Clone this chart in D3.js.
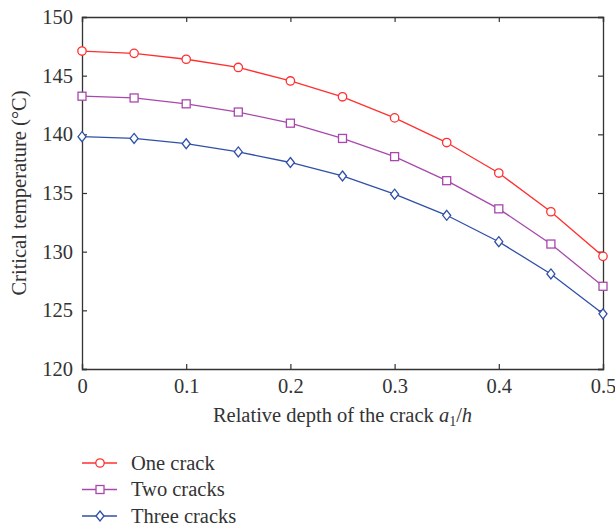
<!DOCTYPE html>
<html>
<head>
<meta charset="utf-8">
<script src="https://cdn.jsdelivr.net/npm/d3@7"></script>
<style>
  body { margin: 0; background: #fff; overflow: hidden; }
  svg { display: block; }
</style>
</head>
<body>
<svg class="chart" width="615" height="528" font-family="Liberation Serif, DejaVu Serif, serif"></svg>
<script>
// data
const depths = [0, 0.05, 0.1, 0.15, 0.2, 0.25, 0.3, 0.35, 0.4, 0.45, 0.5];
const oneCrack = [147.1, 146.9, 146.4, 145.7, 144.55, 143.2, 141.4, 139.3, 136.7, 133.4, 129.6];
const twoCracks = [143.25, 143.1, 142.6, 141.9, 140.95, 139.65, 138.1, 136.05, 133.65, 130.65, 127.05];
const threeCracks = [139.8, 139.65, 139.2, 138.5, 137.6, 136.45, 134.9, 133.1, 130.85, 128.1, 124.7];
const xTicks = [0, 0.1, 0.2, 0.3, 0.4, 0.5];
const yTicks = [120, 125, 130, 135, 140, 145, 150];
const seriesNames = ['One crack', 'Two cracks', 'Three cracks'];

const series = [
    {name: seriesNames[0], values: oneCrack, color: '#ff3030', marker: 'circle'},
    {name: seriesNames[1], values: twoCracks, color: '#a848ac', marker: 'square'},
    {name: seriesNames[2], values: threeCracks, color: '#3050a8', marker: 'diamond'}
];

const svg = d3.select('.chart');
const margin = {top: 17, right: 12, bottom: 159, left: 82};
const width = +svg.attr('width');
const height = +svg.attr('height');
const innerWidth = width - margin.left - margin.right;
const innerHeight = height - margin.top - margin.bottom;
const fontSize = 20.5;
const textColor = '#333';

const xScale = d3.scaleLinear().domain([0, 0.5]).range([0, innerWidth]);
const yScale = d3.scaleLinear().domain([120, 150]).range([innerHeight, 0]);

const g = svg.append('g')
    .attr('transform', `translate(${margin.left}, ${margin.top})`);

// axes, ticks point inward, mirrored on top and right
const axisColor = '#333';
const tickLen = 5;

const xAxisG = g.append('g')
    .attr('transform', `translate(0, ${innerHeight})`)
    .call(d3.axisBottom(xScale).tickValues(xTicks).tickSize(-tickLen).tickPadding(9)
        .tickFormat(d => d === 0 ? '0' : d3.format('.1f')(d)));
const yAxisG = g.append('g')
    .call(d3.axisLeft(yScale).tickValues(yTicks).tickSize(-tickLen).tickPadding(9));
const topAxisG = g.append('g')
    .call(d3.axisTop(xScale).tickValues(xTicks).tickSize(-tickLen));
const rightAxisG = g.append('g')
    .attr('transform', `translate(${innerWidth}, 0)`)
    .call(d3.axisRight(yScale).tickValues(yTicks).tickSize(-tickLen));

// mirrored axes carry no labels
topAxisG.selectAll('.tick text').remove();
rightAxisG.selectAll('.tick text').remove();

[xAxisG, yAxisG, topAxisG, rightAxisG].forEach(a => {
    a.attr('font-size', fontSize).attr('font-family', null);
    a.select('.domain').attr('stroke', axisColor).attr('stroke-width', 1.3);
    a.selectAll('.tick line').attr('stroke', axisColor).attr('stroke-width', 1.2);
    a.selectAll('.tick text').attr('fill', textColor);
});

// axis titles
const xTitle = g.append('text')
    .attr('x', innerWidth / 2)
    .attr('y', innerHeight + 53)
    .attr('text-anchor', 'middle')
    .attr('font-size', fontSize)
    .attr('fill', textColor);
xTitle.append('tspan').text('Relative depth of the crack ');
xTitle.append('tspan').attr('font-style', 'italic').text('a');
xTitle.append('tspan').attr('font-size', 14).attr('dy', 4).text('1');
xTitle.append('tspan').attr('dy', -4).text('/');
xTitle.append('tspan').attr('font-style', 'italic').text('h');

g.append('text')
    .attr('transform', `translate(${-56}, ${innerHeight / 2}) rotate(-90)`)
    .attr('text-anchor', 'middle')
    .attr('font-size', fontSize)
    .attr('fill', textColor)
    .text('Critical temperature (\u00B0C)');

// lines and markers
const line = d3.line()
    .x((d, i) => xScale(depths[i]))
    .y(d => yScale(d));

const drawMarker = (sel, type, color) => {
    if (type === 'circle') {
        sel.append('circle').attr('r', 4.2);
    } else if (type === 'square') {
        sel.append('rect').attr('x', -4).attr('y', -4).attr('width', 8).attr('height', 8);
    } else {
        sel.append('path').attr('d', 'M0,-5 L4,0 L0,5 L-4,0 Z');
    }
    sel.selectAll('circle, rect, path')
        .attr('fill', '#fff')
        .attr('stroke', color)
        .attr('stroke-width', 1.3);
};

series.forEach(s => {
    g.append('path')
        .datum(s.values)
        .attr('fill', 'none')
        .attr('stroke', s.color)
        .attr('stroke-width', 1.3)
        .attr('d', line);

    g.selectAll(null)
        .data(s.values)
        .enter()
        .append('g')
        .attr('transform', (d, i) => `translate(${xScale(depths[i])}, ${yScale(d)})`)
        .each(function () { drawMarker(d3.select(this), s.marker, s.color); });
});

// legend
const legend = svg.append('g').attr('transform', 'translate(82, 463)');
series.forEach((s, i) => {
    const row = legend.append('g').attr('transform', `translate(0, ${i * 26.5})`);
    row.append('line')
        .attr('x1', 0).attr('x2', 35)
        .attr('stroke', s.color).attr('stroke-width', 1.3);
    const m = row.append('g').attr('transform', 'translate(18, 0)');
    drawMarker(m, s.marker, s.color);
    row.append('text')
        .attr('x', 49)
        .attr('dy', '0.32em')
        .attr('font-size', fontSize)
        .attr('fill', textColor)
        .text(s.name);
});
</script>
</body>
</html>
